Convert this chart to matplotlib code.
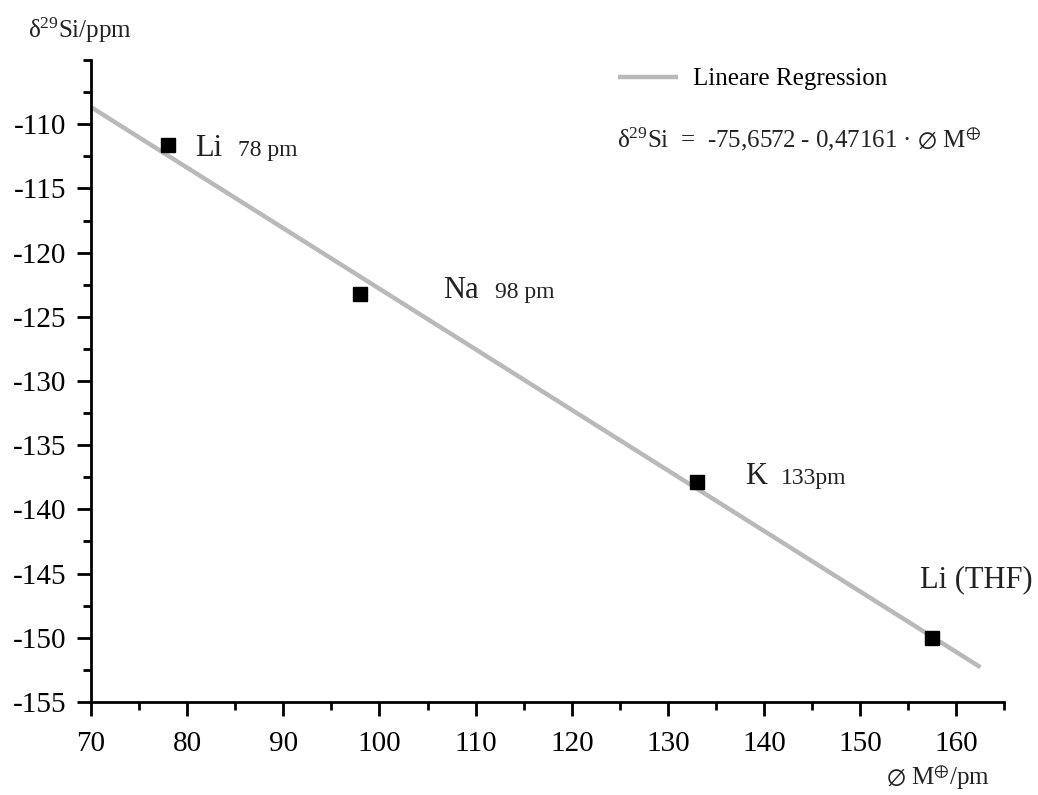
import matplotlib
matplotlib.use('Agg')
import matplotlib.pyplot as plt
import numpy as np
from matplotlib.ticker import MultipleLocator

plt.rcParams['font.family'] = ['Liberation Serif', 'DejaVu Serif']
plt.rcParams['mathtext.fontset'] = 'custom'
plt.rcParams['mathtext.rm'] = 'Liberation Serif'
plt.rcParams['mathtext.it'] = 'Liberation Serif:italic'
plt.rcParams['mathtext.fallback'] = 'stix'
plt.rcParams['axes.unicode_minus'] = False

# Messwerte
ionen = ['Li', 'Na', 'K', 'Li (THF)']
radien = [78, 98, 133, 157.5]
shifts = [-111.6, -123.2, -137.9, -150.0]
radius_text = ['78 pm', '98 pm', '133pm', '']

# Regression
a, b = -75.6572, -0.47161
fit_x = [70, 162.5]

fig = plt.figure(figsize=(10.38, 7.95), dpi=100)
ax = fig.add_axes([0.0877, 0.117, 0.880, 0.8075])

xs = np.array(fit_x)
ax.plot(xs, a + b * xs, color='#b9b9b9', lw=3.2, solid_capstyle='butt', label='Lineare Regression')
ax.plot(radien, shifts, 's', color='black', ms=10, zorder=3)

ax.set_xlim(70, 165)
ax.set_ylim(-155, -105)
ax.xaxis.set_minor_locator(MultipleLocator(5))
ax.yaxis.set_minor_locator(MultipleLocator(2.5))
ax.set_xticks(np.arange(70, 161, 10))
ax.set_yticks(np.arange(-155, -109, 5))
ax.tick_params(which='major', direction='out', length=10, width=2, labelsize=21, pad=8)
ax.tick_params(axis='x', which='major', pad=11)
ax.tick_params(which='minor', direction='out', length=5.5, width=2)
for s in ['top', 'right']:
    ax.spines[s].set_visible(False)
for s in ['left', 'bottom']:
    ax.spines[s].set_linewidth(2)

# Beschriftungen der Punkte (Element gross, Radius kleiner daneben)
name_pos = [(80.8, -112.5), (106.6, -123.5), (138.0, -138.0), (156.2, -146.1)]
rad_pos = [(85.3, -112.5), (112.0, -123.5), (141.8, -138.0), (0, 0)]
for name, rt, (nx, ny), (rx, ry) in zip(ionen, radius_text, name_pos, rad_pos):
    ax.text(nx, ny, name, fontsize=22, va='baseline', color='#222222')
    if rt:
        ax.text(rx, ry, rt, fontsize=17, va='baseline', color='#222222')

ax.legend(loc='center left', bbox_to_anchor=(0.595, 1 - 79 / 795), bbox_transform=fig.transFigure,
          frameon=False, fontsize=18, handlelength=2.4, handletextpad=0.6,
          borderpad=0, borderaxespad=0)
fig.text(0.594, 1 - 147 / 795,
         r'δ$^{\mathrm{29}}$Si  =  -75,6572 - 0,47161 · $\varnothing$ M$^{\oplus}$',
         fontsize=18, va='baseline', color='#222222')

fig.text(0.027, 1 - 38 / 795, r'δ$^{\mathrm{29}}$Si/ppm', fontsize=18, va='baseline', color='#222222')
fig.text(0.854, 1 - 785 / 795, r'$\varnothing$ M$^{\oplus}$/pm', fontsize=18, va='baseline', color='#222222')

fig.savefig('out.png', dpi=100)
